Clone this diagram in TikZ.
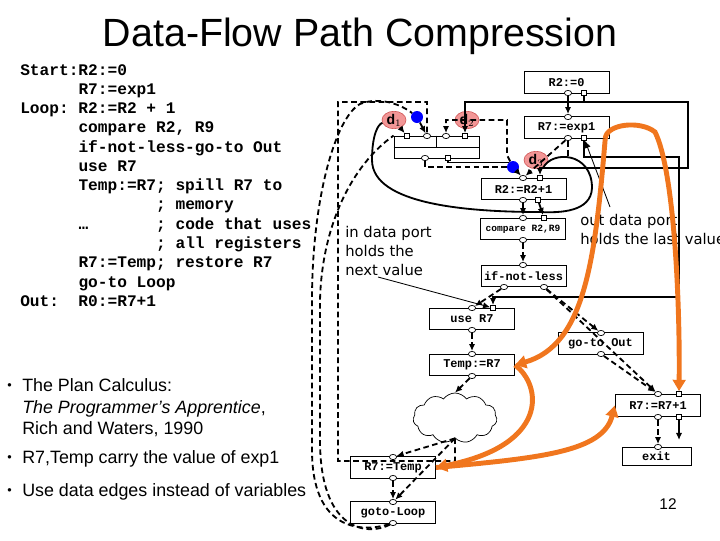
\documentclass[tikz,border=0pt]{standalone}
\usepackage{fontspec}
\setmainfont{Liberation Sans}
\newfontfamily\codefont{Liberation Mono}
\newfontfamily\handfont{DejaVu Sans}
\usepackage{tikz}
\usetikzlibrary{arrows.meta,shapes.geometric,shapes.symbols}

\definecolor{pathorange}{RGB}{240,118,30}
\definecolor{labelpink}{RGB}{242,150,150}
\definecolor{labelred}{RGB}{205,80,80}

\tikzset{
	op/.style={draw,line width=0.6pt,fill=white,minimum width=2.125cm,minimum height=0.54cm,inner sep=0pt,font=\codefont\bfseries\fontsize{8.5}{10}\selectfont},
	cport/.style={draw,line width=0.5pt,fill=white,ellipse,minimum width=0.18cm,minimum height=0.13cm,inner sep=0pt},
	sport/.style={draw,line width=0.5pt,fill=white,minimum size=0.13cm,inner sep=0pt},
	dflow/.style={line width=1.3pt},
	cflow/.style={line width=1.3pt,dash pattern=on 4pt off 2.5pt},
	arr/.style={-{Latex[length=5pt,width=4.5pt]}},
	dlab/.style={ellipse,fill=labelpink,draw=labelred,line width=0.4pt,minimum width=0.6cm,minimum height=0.4cm,inner sep=0pt,font=\fontsize{10}{11}\selectfont},
	jdot/.style={circle,fill=blue,minimum size=0.3cm,inner sep=0pt},
	compress/.style={line width=3.5pt,pathorange,-{Triangle[length=8pt,width=9pt]}},
	hand/.style={font=\handfont\fontsize{10.5}{13.5}\selectfont,anchor=base west,inner sep=0pt},
	bul/.style={font=\fontsize{12.7}{15}\selectfont,anchor=base west,inner sep=0pt},
	bdot/.style={font=\fontsize{9}{10}\selectfont,anchor=base west,inner sep=0pt},
}

\begin{document}
\begin{tikzpicture}[x=0.025cm,y=-0.025cm]
	\useasboundingbox (0,0) rectangle (720,540);
	
	% title, listing, bullets
	\node[font=\fontsize{28}{32}\selectfont,anchor=base] (title) at (360,46) {Data-Flow Path Compression};
	\node[anchor=north west,inner sep=0pt,align=left,font=\codefont\bfseries\fontsize{11.5}{13.7}\selectfont] (code) at (20,64)
	{Start:R2:=0\\~~~~~~R7:=exp1\\Loop:~R2:=R2~+~1\\~~~~~~compare~R2,~R9\\~~~~~~if-not-less-go-to~Out\\~~~~~~use~R7\\~~~~~~Temp:=R7;~spill~R7~to\\~~~~~~~~~~~~~~;~memory\\~~~~~~…~~~~~~~;~code~that~uses\\~~~~~~~~~~~~~~;~all~registers\\~~~~~~R7:=Temp;~restore~R7\\~~~~~~go-to~Loop\\Out:~~R0:=R7+1};
	\node[bdot] (dot1) at (7,389) {\textbullet};
	\node[bul] (it1a) at (22,391) {The Plan Calculus:};
	\node[bul] (it1b) at (22,413) {\textit{The Programmer’s Apprentice},};
	\node[bul] (it1c) at (22,434) {Rich and Waters, 1990};
	\node[bdot] (dot2) at (7,461) {\textbullet};
	\node[bul] (it2) at (22,463) {R7,Temp carry the value of exp1};
	\node[bdot] (dot3) at (7,494) {\textbullet};
	\node[bul] (it3) at (22,496) {Use data edges instead of variables};
	\node[font=\fontsize{11}{13}\selectfont] (pnum) at (668,504) {12};
	
	% notes
	\node[hand] (inA) at (345,237) {in data port};
	\node[hand] (inB) at (345,256) {holds the};
	\node[hand] (inC) at (345,275) {next value};
	\node[hand] (outA) at (580,225) {out data port};
	\node[hand] (outB) at (580,244) {holds the last value};
	
	% operation boxes
	\node[op] (b1) at (566.5,82.5) {R2:=0};
	\node[op] (b2) at (566.5,127.5) {R7:=exp1};
	\node[op,minimum height=0.55cm] (jn) at (436.5,147) {};
	\draw[line width=0.6pt] (jn.west) -- (jn.east);
	\draw[line width=0.6pt] (jn.north) -- (jn.center);
	\node[op] (b3) at (523.5,189) {R2:=R2+1};
	\node[op,font=\codefont\bfseries\fontsize{6.8}{8}\selectfont] (b4) at (523,229) {compare R2,R9};
	\node[op] (b5) at (523.5,276) {if-not-less};
	\node[op] (b6) at (472,319) {use R7};
	\node[op] (b7) at (600.5,343.5) {go-to Out};
	\node[op] (b8) at (472,365) {Temp:=R7};
	\node[cloud,draw,fill=white,line width=0.5pt,cloud puffs=11,cloud puff arc=110,aspect=1.7,minimum width=2.1cm,minimum height=1.25cm,inner sep=0pt] (cl) at (455,418) {};
	\node[op] (b9) at (393,467.5) {R7:=Temp};
	\node[op] (b10) at (393,512.5) {goto-Loop};
	\node[op,line width=1pt] (b11) at (658,405.5) {R7:=R7+1};
	\node[op,minimum width=1.72cm,minimum height=0.45cm] (b12) at (656.5,456) {exit};
	
	% ports
	\node[cport] (b1c) at (568,93) {};
	\node[sport] (b1s) at (584,93) {};
	\node[cport] (b2ti) at (568,117) {};
	\node[cport] (b2c) at (568,138) {};
	\node[sport] (b2s) at (584,138) {};
	\node[sport] (jns1) at (407,136) {};
	\node[cport] (jnc1) at (427,136) {};
	\node[cport] (jnc2) at (446,136) {};
	\node[sport] (jns2) at (465,136) {};
	\node[cport] (jnc) at (425,158) {};
	\node[sport] (jns) at (448,158) {};
	\node[cport] (b3tc) at (523,178) {};
	\node[sport] (b3ts) at (540,178) {};
	\node[cport] (b3c) at (523,200) {};
	\node[sport] (b3s) at (538,200) {};
	\node[cport] (b4tc) at (523,218) {};
	\node[sport] (b4ts) at (544,218) {};
	\node[cport] (b4c) at (523,240) {};
	\node[cport] (b5tc) at (523,265) {};
	\node[cport] (b5c1) at (504,287) {};
	\node[cport] (b5c2) at (544,287) {};
	\node[cport] (b6tc) at (472,308) {};
	\node[sport] (b6ts) at (493,308) {};
	\node[cport] (b6c) at (472,330) {};
	\node[cport] (b7tc) at (601,333) {};
	\node[cport] (b7c) at (601,354) {};
	\node[cport] (b8tc) at (472,354) {};
	\node[cport] (b8c) at (472,376) {};
	\node[cport] (b9tc) at (393,457) {};
	\node[cport] (b9c) at (393,478) {};
	\node[cport] (b10tc) at (393,502) {};
	\node[cport] (b10c) at (393,523) {};
	\node[cport] (b11tc) at (658,394) {};
	\node[sport] (b11ts) at (679,394) {};
	\node[cport] (b11c) at (658,417) {};
	\node[sport] (b11s) at (679,417) {};
	\node[cport] (b12tc) at (658,447) {};
	
	% labels and joins
	\node[dlab] (dl1) at (394,120) {$\mathbf{d}_1$};
	\node[dlab] (dl2) at (467,120) {$\mathbf{d}_2$};
	\node[dlab] (dl3) at (536,160) {$\mathbf{d}_3$};
	\node[jdot] (jd1) at (417,117) {};
	\node[jdot] (jd2) at (513,167) {};
	\coordinate (r7fork) at (679,297);
	\coordinate (r2fork) at (543,168);
	\coordinate (r2top) at (568,157);
	\coordinate (r7out) at (679,440);
	\coordinate (nvtail) at (378,277);
	\coordinate (ovtail) at (610,207);
	
	% data edges
	\draw[dflow,arr] (b1c) -- (b2ti);
	\draw[dflow,arr] (b1s) |- (465,102) -- (jns2);
	\draw[dflow,arr] (b1s) |- (688,102) |- (540,168) -- (b3ts);
	\draw[dflow] (jns) |- (jd2.north west);
	\draw[dflow,arr] (b2s) |- (679,157) -- (b11ts);
	\draw[dflow,arr] (r7fork) -| (b6ts);
	\draw[dflow,arr] (b3s) -- (b4ts);
	\draw[dflow] (r2fork) .. controls (552,150) and (592,152) .. (592,188) .. controls (591,212) and (560,213) .. (540,212) .. controls (470,212) and (372,205) .. (372,160) .. controls (372,135) and (378,124) .. (dl1);
	\draw[dflow,arr] (dl1) -- (jns1);
	\draw[dflow,arr] (b11s) -- (r7out);
	
	% control edges
	\draw[cflow,arr] (b2c) -- (b3tc);
	\draw[cflow] (b2c) -- (r2top);
	\draw[cflow,arr] (jd2) -- (b3tc);
	\draw[cflow] (jnc) |- (jd2);
	\draw[cflow,arr] (jd2) -- (507,155) -- (507,120) -| (jnc2);
	\draw[cflow,arr] (jd1) -- (jnc1);
	\draw[cflow] (b10c) .. controls (360,533) and (312,530) .. (312,450) -- (312,300) .. controls (312,200) and (335,118) .. (360,104) .. controls (380,96) and (402,105) .. (jd1);
	\draw[cflow] (b10c) .. controls (368,536) and (320,532) .. (320,440) -- (320,300) .. controls (322,225) and (352,165) .. (jn.north west);
	\draw[cflow] (cl.south) -- (455,461) -| (338,102) -| (jnc1);
	\draw[cflow,arr] (b3c) -- (b4tc);
	\draw[cflow,arr] (b4c) -- (b5tc);
	\draw[cflow,arr] (b5c1) -- (b6tc);
	\draw[cflow,arr] (b5c2) -- (b7tc);
	\draw[cflow,arr] (b5c2) -- (b11tc);
	\draw[cflow,arr] (b7c) -- (b11tc);
	\draw[cflow,arr] (b6c) -- (b8tc);
	\draw[cflow,arr] (b8c) -- (cl.north);
	\draw[cflow,arr] (cl.south) -- (b9tc);
	\draw[cflow,arr] (cl.south) -- (b10tc);
	\draw[cflow,arr] (b9c) -- (b10tc);
	\draw[cflow,arr] (b11c) -- (b12tc);
	
	% notes' pointers
	\draw[line width=0.6pt,arr] (nvtail) -- (b6ts);
	\draw[line width=0.6pt,arr] (ovtail) -- (b2s);
	
	% compressed paths
	\draw[compress] ([xshift=-3pt]b2.south east) .. controls (606,124) and (640,120) .. (655,132) .. controls (674,170) and (680,300) .. (b11ts);
	\draw[compress] ([xshift=-3pt]b2.south east) .. controls (595,260) and (585,345) .. (b8.east);
	\draw[compress] (b8.east) .. controls (542,385) and (550,445) .. (b9.east);
	\draw[compress] (b9.east) .. controls (540,458) and (603,452) .. (b11.west);
\end{tikzpicture}
\end{document}
